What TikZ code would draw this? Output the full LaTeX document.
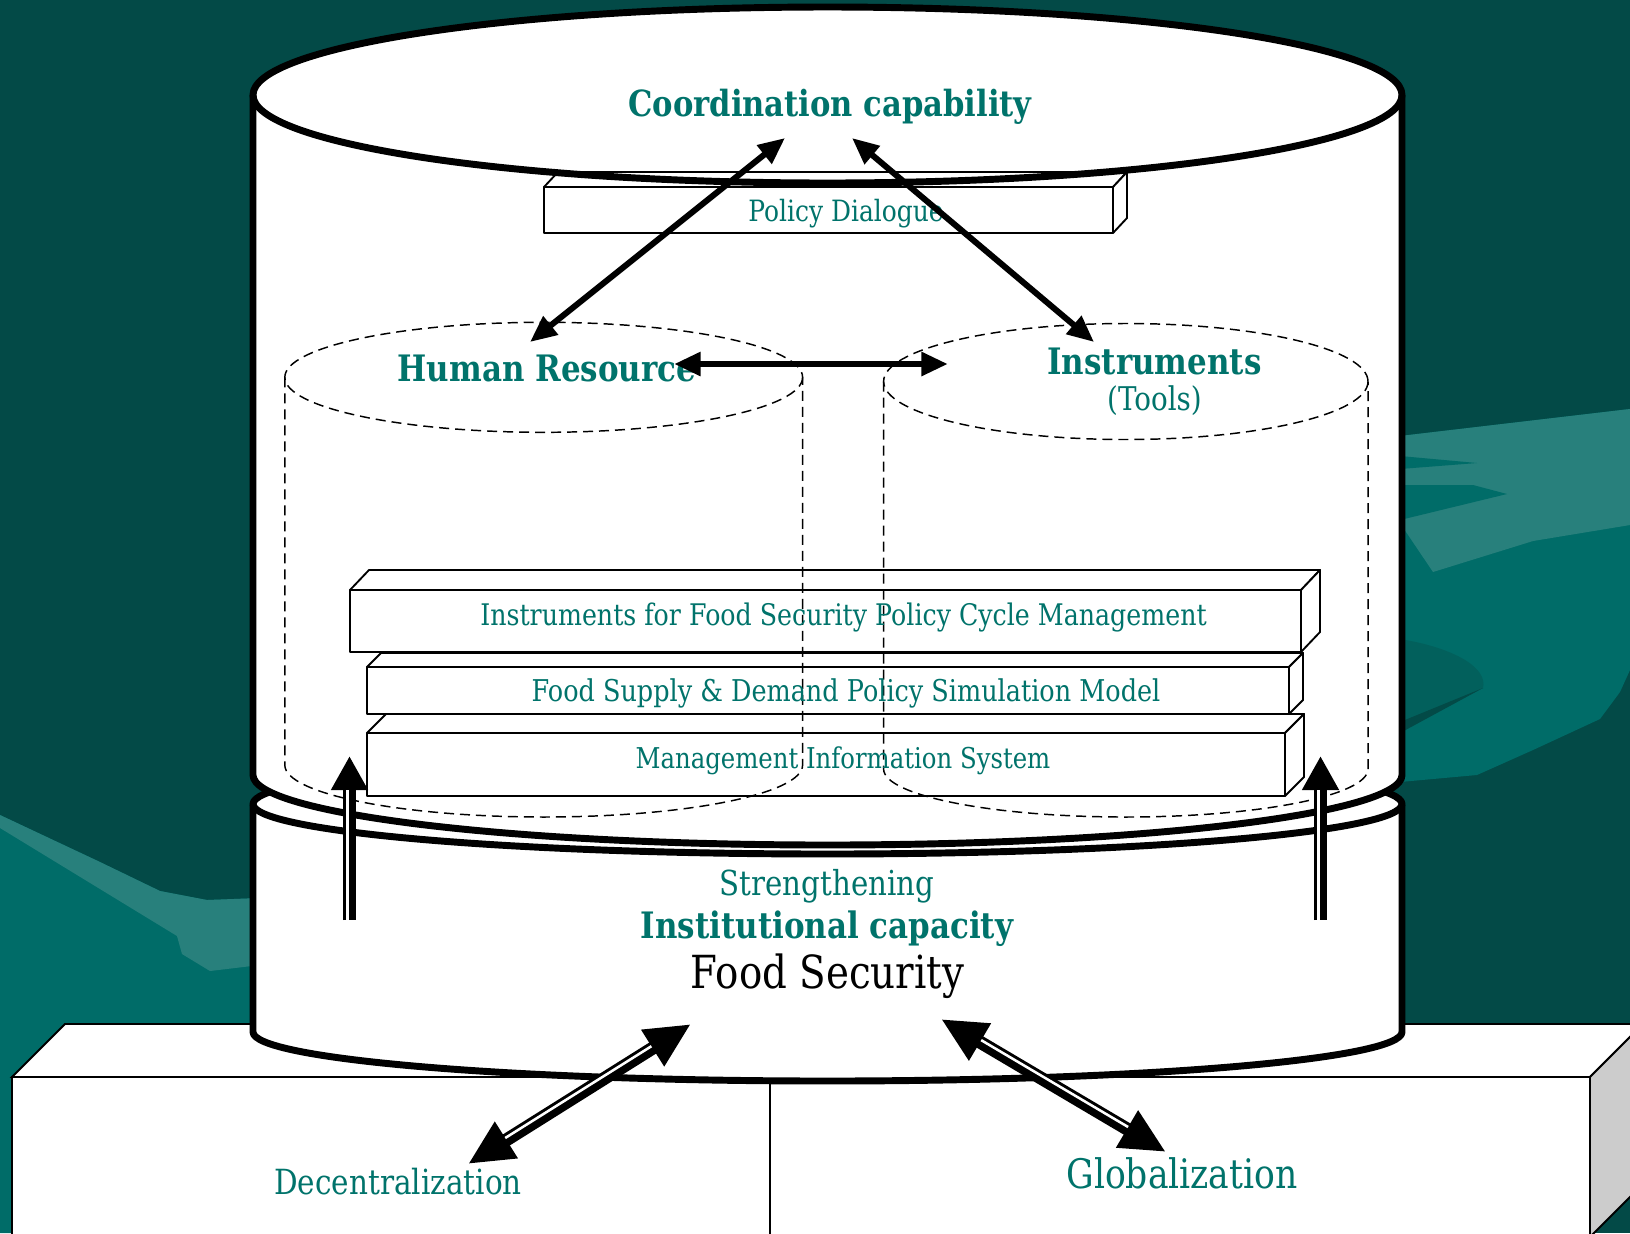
\documentclass[tikz,border=0pt]{standalone}
\usepackage{fontspec}
\setmainfont{DejaVu Serif}[FakeStretch=0.85]
\usetikzlibrary{arrows.meta,calc}
\definecolor{slidebg}{HTML}{034A47}
\definecolor{wavemid}{HTML}{006C68}
\definecolor{wavelight}{HTML}{28807C}
\definecolor{wavedeep}{HTML}{02605C}
\definecolor{tealtext}{HTML}{00736B}
\definecolor{sidegray}{HTML}{CCCCCC}

\tikzset{every picture/.style={line width=0.75pt}}
\tikzset{
  canline/.style={line width=5.2pt, line join=round},
  slabline/.style={line width=1.4pt, fill=white, line join=round},
  dashline/.style={line width=1.1pt, dash pattern=on 7.5pt off 4.5pt},
  boldtxt/.style={inner sep=0.75pt, anchor=base, text=tealtext, font=\fontsize{27.3}{33}\selectfont\bfseries},
  plaintxt/.style={inner sep=0.75pt, anchor=base, text=tealtext, font=\fontsize{24.5}{29}\selectfont},
  slabtxt/.style={inner sep=0.75pt, anchor=base, text=tealtext, font=\fontsize{22}{26}\selectfont},
  linkarrow/.style={line width=4.5pt, {Triangle[length=20pt,width=17pt]}-{Triangle[length=20pt,width=17pt]}},
  pusharrow/.style={line width=9.75pt, -{Triangle[length=25.5pt,width=26pt]}},
  tiearrow/.style={line width=9.75pt, {Triangle[length=34pt,width=30pt]}-{Triangle[length=34pt,width=30pt]}},
  gapline/.style={white, line width=1.9pt},
}

\begin{document}
\begin{tikzpicture}[x=0.75pt,y=0.75pt,yscale=-1,xscale=1]
\useasboundingbox (0,0) rectangle (1630,1233);
\clip (0,0) rectangle (1630,1233);

%Shape: Background
\fill[slidebg] (0,0) rectangle (1630,1233);
%Shape: Waves left
\fill[wavemid] (0,815) -- (100,862) -- (160,891) -- (207,900) -- (260,898) -- (260,1233) -- (0,1233) -- cycle;
\fill[wavelight] (0,815) -- (100,862) -- (160,891) -- (207,900) -- (260,898) -- (260,965) -- (210,971) -- (182,954) -- (177,936) -- (0,828) -- cycle;
%Shape: Waves right
\fill[wavemid] (1400,436) -- (1630,409) -- (1630,670) -- (1620,692) -- (1600,719) -- (1533,750) -- (1477,775) -- (1400,782) -- cycle;
\fill[wavelight] (1400,436) -- (1630,409) -- (1630,525) -- (1533,541) -- (1433,572) -- (1400,523) -- cycle;
\fill[wavemid] (1400,456) -- (1477,463) -- (1400,469) -- cycle;
\fill[wavemid] (1400,485) -- (1473,485) -- (1507,494) -- (1400,520) -- cycle;
\fill[wavedeep] (1400,639) .. controls (1455,648) and (1488,668) .. (1483,688) -- (1400,728) -- cycle;
\fill[slidebg] (1400,722) -- (1483,688) -- (1400,733) -- cycle;

%Shape: Platform
\draw[line width=1.4pt, fill=white] (12,1077) -- (65,1024) -- (1643,1024) -- (1590,1077) -- cycle;
\draw[line width=1.4pt, fill=white] (12,1077) rectangle (1590,1237);
\draw[line width=1.4pt, fill=sidegray] (1590,1077) -- (1643,1024) -- (1643,1184) -- (1590,1237) -- cycle;
\draw[line width=1.4pt] (770,1077) -- (770,1237);

%Shape: Can lower
\draw[canline, fill=white] (253,804) -- (253,1032) arc[start angle=180, end angle=0, x radius=574.5, y radius=49] -- (1402,804) arc[start angle=0, end angle=-180, x radius=574.5, y radius=50] -- cycle;
\draw[canline] (253,804) arc[start angle=180, end angle=0, x radius=574.5, y radius=50];

%Shape: Can upper
\fill[white] (253,95) -- (253,775) arc[start angle=180, end angle=0, x radius=574.5, y radius=70] -- (1402,95) arc[start angle=0, end angle=-180, x radius=574.5, y radius=88] -- cycle;
\draw[canline] (253,95) -- (253,775) arc[start angle=180, end angle=0, x radius=574.5, y radius=70] -- (1402,95);

%Shape: Slab Policy Dialogue
\draw[slabline] (544,187) rectangle (1113,233);
\draw[slabline] (544,187) -- (558,172) -- (1127,172) -- (1113,187) -- cycle;
\draw[slabline] (1113,187) -- (1127,172) -- (1127,218) -- (1113,233) -- cycle;

%Shape: Can upper lid
\draw[canline] (827.5,95) ellipse [x radius=574.5, y radius=88];

%Shape: Slab MIS
\draw[slabline] (367,733) rectangle (1285,796);
\draw[slabline] (367,733) -- (386,714) -- (1304,714) -- (1285,733) -- cycle;
\draw[slabline] (1285,733) -- (1304,714) -- (1304,777) -- (1285,796) -- cycle;
%Shape: Slab simulation model
\draw[slabline] (367,667) rectangle (1289,714);
\draw[slabline] (367,667) -- (381,653) -- (1303,653) -- (1289,667) -- cycle;
\draw[slabline] (1289,667) -- (1303,653) -- (1303,700) -- (1289,714) -- cycle;
%Shape: Slab policy cycle
\draw[slabline] (350,590) rectangle (1301,652);
\draw[slabline] (350,590) -- (369,570) -- (1320,570) -- (1301,590) -- cycle;
\draw[slabline] (1301,590) -- (1320,570) -- (1320,632) -- (1301,652) -- cycle;

%Shape: Dashed can Human Resource
\draw[dashline] (543.7,377.3) ellipse [x radius=258.9, y radius=55];
\draw[dashline] (284.8,377.3) -- (284.8,765) arc[start angle=180, end angle=0, x radius=258.9, y radius=52] -- (802.6,377.3);
%Shape: Dashed can Instruments
\draw[dashline] (1125.8,381.5) ellipse [x radius=242.2, y radius=58];
\draw[dashline] (883.6,381.5) -- (883.6,769) arc[start angle=180, end angle=0, x radius=242.2, y radius=48] -- (1368,381.5);

% Text Node
\node[boldtxt, font=\fontsize{27}{33}\selectfont\bfseries] (coord) at (830,116.7) {Coordination capability};
% Text Node
\node[slabtxt] (dialogue) at (846,221) {Policy Dialogue};
% Text Node
\node[boldtxt] (hr) at (547,381) {Human Resource};
% Text Node
\node[boldtxt] (instr) at (1154.5,374) {Instruments};
% Text Node
\node[plaintxt] (tools) at (1154.5,410) {(Tools)};
% Text Node
\node[slabtxt, font=\fontsize{22.3}{26}\selectfont] (cycle) at (843.5,625) {Instruments for Food Security Policy Cycle Management};
% Text Node
\node[slabtxt, font=\fontsize{22.5}{26}\selectfont] (simmodel) at (846,701.7) {Food Supply \& Demand Policy Simulation Model};
% Text Node
\node[slabtxt, font=\fontsize{21.5}{26}\selectfont] (mis) at (843,768.3) {Management Information System};
% Text Node
\node[plaintxt, font=\fontsize{25.8}{30}\selectfont] (strength) at (827,895) {Strengthening};
% Text Node
\node[boldtxt] (instcap) at (827,938) {Institutional capacity};
% Text Node
\node[plaintxt, text=black, font=\fontsize{34.2}{40}\selectfont] (foodsec) at (827.5,988) {Food Security};
% Text Node
\node[plaintxt, font=\fontsize{26}{31}\selectfont] (decent) at (398,1194) {Decentralization};
% Text Node
\node[plaintxt, font=\fontsize{30.5}{36}\selectfont] (global) at (1182,1188) {Globalization};

% arrow ends
\coordinate (coordL) at (785,138);
\coordinate (coordR) at (852,138);
\coordinate (hrTop) at (530,342);
\coordinate (instrTop) at (1094,342);
\coordinate (hrEast) at (674,364);
\coordinate (instrWest) at (948,364);
\coordinate (pushLfoot) at (349.5,920);
\coordinate (pushLtip) at (349.5,756);
\coordinate (pushRfoot) at (1320.5,920);
\coordinate (pushRtip) at (1320.5,756);
\coordinate (fsL) at (691,1024);
\coordinate (fsR) at (941,1019);
\coordinate (decTip) at (468,1164);
\coordinate (globTip) at (1166,1152);

%Arrows
\draw[linkarrow] (coordL) -- (hrTop);
\draw[linkarrow] (coordR) -- (instrTop);
\draw[linkarrow, line width=5.2pt] (hrEast) -- (instrWest);
\draw[pusharrow] (pushLfoot) -- (pushLtip);
\draw[gapline, shorten >=25.5pt] ($(pushLfoot)+(-2.25,0)$) -- ($(pushLtip)+(-2.25,0)$);
\draw[pusharrow] (pushRfoot) -- (pushRtip);
\draw[gapline, shorten >=25.5pt] ($(pushRfoot)+(-2.25,0)$) -- ($(pushRtip)+(-2.25,0)$);
\draw[tiearrow] (decTip) -- (fsL);
\draw[gapline, shorten <=34pt, shorten >=34pt] ($(decTip)+(-1.2,-1.9)$) -- ($(fsL)+(-1.2,-1.9)$);
\draw[tiearrow] (fsR) -- (globTip);
\draw[gapline, shorten <=34pt, shorten >=34pt] ($(fsR)+(1.15,-1.94)$) -- ($(globTip)+(1.15,-1.94)$);

\end{tikzpicture}
\end{document}
